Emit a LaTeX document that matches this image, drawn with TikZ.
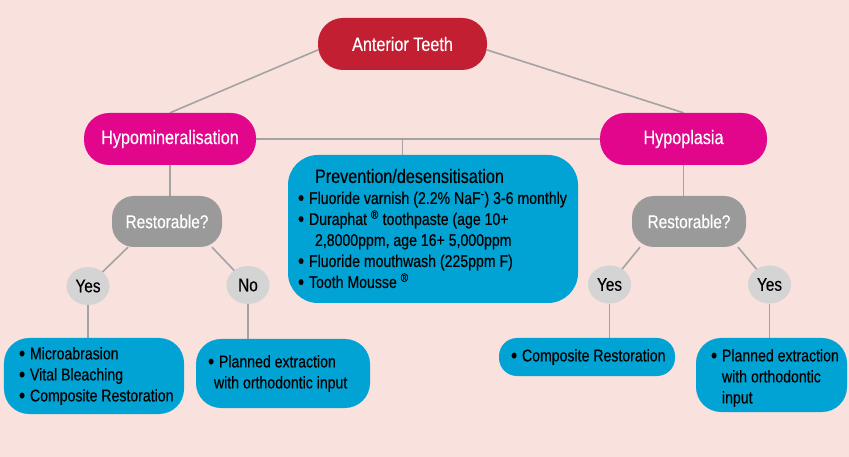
\documentclass[tikz,border=0pt]{standalone}
\usepackage{fontspec}
\setmainfont{Liberation Sans}[FakeStretch=0.83,FakeBold=0.35]
\usetikzlibrary{shapes.geometric,backgrounds}
\pgfdeclarelayer{linelayer}
\pgfsetlayers{background,linelayer,main}
\definecolor{bgpink}{HTML}{F9E1DE}
\definecolor{tred}{HTML}{C21F32}
\definecolor{tmag}{HTML}{E1068B}
\definecolor{tblue}{HTML}{00A3D4}
\definecolor{tgray}{HTML}{9A9A9A}
\definecolor{tlight}{HTML}{D4D4D4}
\definecolor{tline}{HTML}{A3A3A3}
\newcommand\bul{\makebox[11bp][l]{\raisebox{-1.2bp}{\scalebox{1.25}{•}}}}
\newcommand\tfbig{\fontsize{19.5bp}{22bp}\selectfont}
\newcommand\tfbody{\fontsize{17bp}{21bp}\selectfont}
\newcommand\tfrest{\fontsize{18.5bp}{21bp}\selectfont}
\begin{document}
\begin{tikzpicture}[x=1bp,y=-1bp,
  show background rectangle,
  inner frame sep=0pt,
  background rectangle/.style={fill=bgpink,draw=none},
  pill/.style={rounded corners=25bp, inner sep=0pt, text=white, font=\tfbig},
  restbox/.style={rounded corners=22bp, inner sep=0pt, fill=tgray, text=white, font=\tfrest, minimum height=51bp},
  answer/.style={ellipse, inner sep=0pt, fill=tlight, text=black, font=\tfrest, minimum width=43bp, minimum height=38bp},
  bluebox/.style={rounded corners=25bp, inner sep=0pt, fill=tblue},
  bodytext/.style={inner sep=0pt, align=left, text=black, font=\tfbody, anchor=west},
  conn/.style={draw=tline, line width=1.6bp}
]
\useasboundingbox (0,0) rectangle (849,457);

% main nodes
\node[pill, fill=tred, minimum width=169bp, minimum height=52bp] (at) at (402.5,44) {Anterior Teeth};
\node[pill, fill=tmag, minimum width=172bp, minimum height=52bp] (hm) at (170,139) {Hypomineralisation};
\node[pill, fill=tmag, minimum width=167bp, minimum height=52bp] (hp) at (683.5,139) {Hypoplasia};

% central box
\node[bluebox, rounded corners=30bp, minimum width=290bp, minimum height=148bp] (cb) at (433,229) {};
\node[bodytext] (cbt) at ([xshift=10bp]cb.west)
  {\hspace*{17bp}{\tfbig Prevention/desensitisation}\\
   \bul Fluoride varnish (2.2\% NaF\textsuperscript{-}) 3-6 monthly\\
   \bul Duraphat \textsuperscript{®} toothpaste (age 10+\\
   \hspace*{17bp}2,8000ppm, age 16+ 5,000ppm\\
   \bul Fluoride mouthwash (225ppm F)\\
   \bul Tooth Mousse \textsuperscript{®}};

% restorable
\node[restbox, minimum width=110bp] (rl) at (167,221.5) {Restorable?};
\node[restbox, minimum width=114bp] (rr) at (689,221.5) {Restorable?};

% answers
\node[answer] (yl) at (88,286) {Yes};
\node[answer] (nl) at (248,285) {No};
\node[answer] (yr1) at (609.5,284.5) {Yes};
\node[answer] (yr2) at (769.5,284.5) {Yes};

% bottom boxes
\node[bluebox, minimum width=180bp, minimum height=76bp] (bl) at (94,376) {};
\node[bodytext] (blt) at ([xshift=15bp]bl.west)
  {\bul Microabrasion\\\bul Vital Bleaching\\\bul Composite Restoration};
\node[bluebox, minimum width=174bp, minimum height=69bp] (bn) at (283,373.5) {};
\node[bodytext] (bnt) at ([xshift=12bp]bn.west)
  {\bul Planned extraction\\\hspace*{6bp}with orthodontic input};
\node[bluebox, rounded corners=18bp, minimum width=176bp, minimum height=38bp] (bc) at (587,357) {};
\node[bodytext] (bct) at ([xshift=12bp]bc.west) {\bul Composite Restoration};
\node[bluebox, minimum width=151bp, minimum height=74bp] (bp) at (771.5,375) {};
\node[bodytext] (bpt) at ([xshift=15bp,yshift=-3bp]bp.west)
  {\bul Planned extraction\\\hspace*{11bp}with orthodontic\\\hspace*{11bp}input};

% connectors
\begin{pgfonlayer}{linelayer}
\draw[conn] ([yshift=-6bp]at.west) -- (hm.north);
\draw[conn] ([yshift=-6bp]at.east) -- (hp.north);
\draw[conn] (hm.east) -- (hp.west);
\draw[conn] (at.south |- hm.east) -- (at.south |- cb.north);
\draw[conn] (hm.south) -- (hm.south |- rl.north);
\draw[conn] (hp.south) -- (hp.south |- rr.north);
\draw[conn] ([xshift=-39bp]rl.south) -- (yl.center);
\draw[conn] ([xshift=45bp]rl.south) -- (nl.center);
\draw[conn] ([xshift=-49bp]rr.south) -- (yr1.center);
\draw[conn] ([xshift=49bp]rr.south) -- (yr2.center);
\draw[conn] (yl.south) -- (yl.south |- bl.north);
\draw[conn] (nl.south) -- (nl.south |- bn.north);
\draw[conn] (yr1.south) -- (yr1.south |- bc.north);
\draw[conn] (yr2.south) -- (yr2.south |- bp.north);
\end{pgfonlayer}
\end{tikzpicture}
\end{document}
